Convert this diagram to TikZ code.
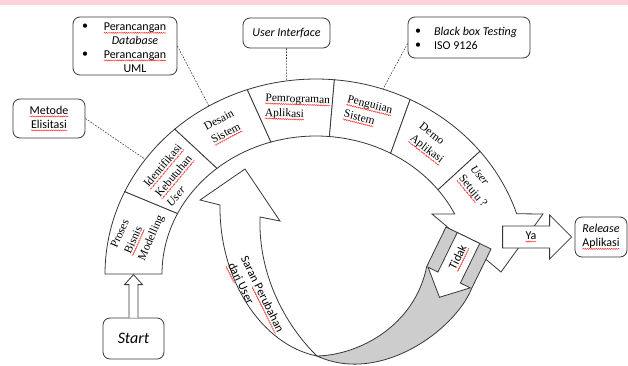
\documentclass[tikz,border=0pt]{standalone}
\usepackage{fontspec}
\setmainfont{Liberation Serif}
\newfontfamily\calfont{Carlito}
\usetikzlibrary{calc,decorations.pathmorphing}

% word with a red wavy underline (spell-check mark)
\newcommand\sq[1]{\tikz[reset cm, baseline=(sqw.base)]{%
  \node[inner sep=0pt, outer sep=0pt, draw=none, fill=none, anchor=base,
        minimum width=0pt, minimum height=0pt, sharp corners] (sqw) at (0pt,0pt) {#1};
  \draw[red!85, solid, sharp corners, line width=0.45pt, decorate,
        decoration={snake, amplitude=0.55pt, segment length=2.2pt}]
    ([yshift=-2.2pt]sqw.base west) -- ([yshift=-2.2pt]sqw.base east);}}

\definecolor{pinkband}{RGB}{255,211,218}
\definecolor{ln}{RGB}{55,55,55}
\definecolor{ribbon}{RGB}{205,205,205}

\tikzset{
  seg/.style={draw=ln, line width=0.8pt, fill=white, line join=miter},
  callout/.style={draw=ln, line width=0.8pt, rounded corners=7pt, fill=white,
    inner sep=0pt, font=\calfont\fontsize{12}{14}\selectfont},
  conn/.style={draw=ln, line width=0.6pt, dash pattern=on 1.6pt off 1.4pt},
  serifTxt/.style={font=\fontsize{11.5}{15}\selectfont, inner sep=0pt, align=left},
  sansTxt/.style={font=\calfont\fontsize{12}{14.5}\selectfont, inner sep=0pt},
}

% one block of the arc band: outer start/end angle, inner start/end angle
\newcommand\arcseg[4]{%
  \draw[seg] ([shift={(#1:211 and 195)}]C) arc[start angle=#1, end angle=#2, x radius=211, y radius=195]
    -- ([shift={(#4:154 and 138)}]C) arc[start angle=#4, end angle=#3, x radius=154, y radius=138] -- cycle;}

\begin{document}
\begin{tikzpicture}[x=1pt, y=1pt]
\useasboundingbox (0,0) rectangle (628,-365);
\clip (0,0) rectangle (628,-365);
\fill[pinkband] (0,0) rectangle (628,-5);

\coordinate (C) at (316,-274);

% arc band
\arcseg{180}{155}{180}{154}
\arcseg{155}{132}{154}{130}
\arcseg{132}{109}{130}{107}
\arcseg{109}{85}{107}{85}
\arcseg{85}{63.5}{85}{61}
\arcseg{63.5}{39}{61}{37.6}
% last block ending in the arrow head
\draw[seg] ([shift={(39:211 and 195)}]C) arc[start angle=39, end angle=18, x radius=211, y radius=195]
  -- (543,-214) -- (501,-272) -- (432,-214)
  -- ([shift={(25.8:154 and 138)}]C) arc[start angle=25.8, end angle=37.6, x radius=154, y radius=138] -- cycle;

% labels on the band
\node[serifTxt, rotate=66] at (138,-232) {Proses\\\sq{Bisnis}\\Modelling};
\node[serifTxt, rotate=50] at (174,-175) {\sq{Identifikasi}\\\sq{Kebutuhan}\\\textit{User}};
\node[serifTxt, rotate=28] at (223,-127.5) {Desain\\\sq{Sistem}};
\node[serifTxt, rotate=-2] at (297.5,-107.5) {\sq{Pemrograman}\\\sq{Aplikasi}};
\node[serifTxt, rotate=-14] at (368,-113) {\sq{Penguiian}\\\sq{Sistem}};
\node[serifTxt, rotate=-38] at (431,-144) {Demo\\\sq{Aplikasi}};
\node[serifTxt, rotate=-50] at (478,-187) {\textit{User}\\\sq{Setuju} ?};

% feedback ribbon: front (white) part with its head
\draw[seg] (245,-169) -- (280,-221) -- (260,-217)
  .. controls (258,-280) and (290,-330) .. (317,-356)
  .. controls (262,-345) and (219,-280) .. (220,-205) -- (200,-200) -- cycle;
\node[sansTxt, align=left, rotate=-63.8] at (255,-298) {Saran \sq{Perubahan}\\\sq{dari} User};

% feedback ribbon: back (grey) part
\draw[seg, fill=ribbon] (446,-227) -- (491,-249) -- (471.6,-288.5)
  .. controls (455,-330) and (380,-385) .. (317,-356)
  .. controls (360,-355) and (415,-325) .. (426.7,-266.5) -- cycle;

% "Tidak" arrow
\begin{scope}[shift={(468.5,-238)}, rotate=-116.1]
  \draw[seg] (0,-12.5) -- (44,-12.5) -- (44,-23.5) -- (66,0) -- (44,23.5) -- (44,12.5) -- (0,12.5) -- cycle;
  \node[sansTxt, rotate=63.9] at (22,0) {\sq{Tidak}};
\end{scope}

% callouts
\node[callout, minimum width=72pt, minimum height=39pt, align=center] (metode) at (49,-118.5) {\sq{Metode}\\\sq{Elisitasi}};
\node[callout, minimum width=104pt, minimum height=58pt] (box2) at (125,-46) {};
\node[sansTxt, align=center, font=\calfont\fontsize{12}{13.8}\selectfont] at (135,-47.5)
  {\sq{Perancangan}\\\textit{Database}\\\sq{Perancangan}\\UML};
\node[sansTxt] at (85,-27) {\textbullet};
\node[sansTxt] at (85,-55) {\textbullet};
\node[callout, minimum width=87pt, minimum height=30pt] (ui) at (286.5,-33) {\textit{User Interface}};
\node[callout, minimum width=122pt, minimum height=41pt] (box4) at (469,-37.5) {};
\node[sansTxt, align=left, anchor=west, font=\calfont\fontsize{12}{13.5}\selectfont] at (434,-38.5)
  {\textit{Black box Testing}\\ISO 9126};
\node[sansTxt] at (418,-32) {\textbullet};
\node[sansTxt] at (418,-45.5) {\textbullet};

% dashed leaders to the band
\coordinate (e1) at ([shift={(144:211 and 195)}]C);
\coordinate (e2) at ([shift={(120.5:211 and 195)}]C);
\coordinate (e3) at ([shift={(98:211 and 195)}]C);
\coordinate (e4) at ([shift={(71.5:211 and 195)}]C);
\draw[conn] (metode.east) -- (e1);
\draw[conn] (box2.east) -- (e2);
\draw[conn] (ui.south) -- (e3);
\draw[conn] ($(box4.west)+(0,-6)$) -- (e4);

% release box and "Ya" arrow
\node[callout, minimum width=52pt, minimum height=40pt, align=center] (rel) at (601,-237) {\textit{Release}\\\sq{Aplikasi}};
\draw[seg] ([xshift=-3pt]rel.west) -- ++(-22,22) -- ++(0,-11) -- ++(-47,0) -- ++(0,-22)
  -- ++(47,0) -- ++(0,-11) -- cycle;
\node[sansTxt] at (531,-237) {\sq{Ya}};

% start box and its arrow
\node[callout, minimum width=61pt, minimum height=41pt, font=\calfont\fontsize{16}{18}\selectfont] (start) at (133.5,-338.5) {\textit{Start}};
\draw[seg] ([xshift=-4.5pt]start.north) -- ++(0,33) -- ++(-4.5,0) -- ++(9,10) -- ++(9,-10)
  -- ++(-4.5,0) -- ++(0,-33);
\end{tikzpicture}
\end{document}
